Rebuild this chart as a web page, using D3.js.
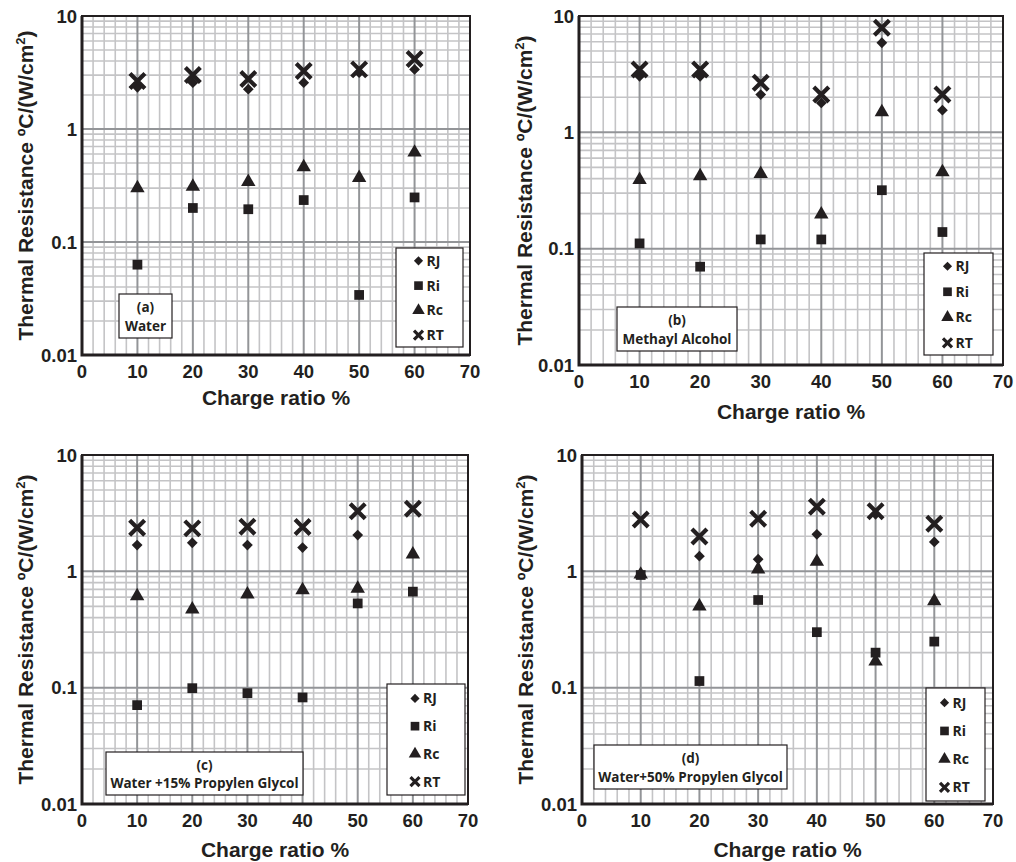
<!DOCTYPE html>
<meta charset="utf-8">
<script src="https://d3js.org/d3.v7.min.js"></script>
<style>
  body { margin: 0; background: #fff; }
  text { font-family: "Liberation Sans", Arial, sans-serif; font-weight: bold; fill: #231f20; }
  .box text { font-family: "Open Sans", sans-serif; font-weight: 700; }
</style>
<div id="my_dataviz"></div>
<script>
// Data
var charge = [10, 20, 30, 40, 50, 60];
var seriesNames = ["RJ", "Ri", "Rc", "RT"];
var yTicks = [0.01, 0.1, 1, 10];
var xTicks = [0, 10, 20, 30, 40, 50, 60, 70];

// (a) Water
var waterRJ = [2.34, 2.57, 2.25, 2.57, 3.15, 3.37];
var waterRi = [0.063, 0.20, 0.195, 0.235, 0.034, 0.248];
var waterRc = [0.30, 0.31, 0.34, 0.46, 0.37, 0.62];
var waterRT = [2.66, 3.0, 2.77, 3.26, 3.37, 4.16];
// (b) Methayl Alcohol
var methRJ = [3.03, 3.03, 2.11, 1.79, 5.89, 1.55];
var methRi = [0.111, 0.070, 0.12, 0.12, 0.318, 0.139];
var methRc = [0.39, 0.42, 0.44, 0.197, 1.49, 0.456];
var methRT = [3.47, 3.47, 2.67, 2.11, 7.92, 2.11];
// (c) Water +15% Propylen Glycol
var pg15RJ = [1.68, 1.76, 1.68, 1.60, 2.05, null];
var pg15Ri = [0.0708, 0.099, 0.0897, 0.0824, 0.53, 0.669];
var pg15Rc = [0.614, 0.472, 0.635, 0.69, 0.71, 1.40];
var pg15RT = [2.37, 2.34, 2.42, 2.40, 3.29, 3.45];
// (d) Water+50% Propylen Glycol
var pg50RJ = [null, 1.35, 1.27, 2.08, 3.09, 1.79];
var pg50Ri = [0.93, 0.114, 0.567, 0.30, 0.20, 0.249];
var pg50Rc = [0.94, 0.50, 1.04, 1.21, 0.168, 0.556];
var pg50RT = [2.79, 1.99, 2.83, 3.59, 3.29, 2.57];

// Panel layout
var panels = [
  {tag: "(a)", name: "Water", series: [waterRJ, waterRi, waterRc, waterRT],
   l: 82, t: 16, r: 470, b: 355, yl: 25, xlab: 398,
   box: [119, 294, 172, 338], leg: [396, 248, 463, 347]},
  {tag: "(b)", name: "Methayl Alcohol", series: [methRJ, methRi, methRc, methRT],
   l: 579, t: 16, r: 1003, b: 365, yl: 524, xlab: 412,
   box: [617, 307, 737, 351], leg: [924, 253, 993, 355]},
  {tag: "(c)", name: "Water +15% Propylen Glycol", series: [pg15RJ, pg15Ri, pg15Rc, pg15RT],
   l: 82, t: 455, r: 468, b: 804, yl: 25, xlab: 850,
   box: [106, 752, 303, 795], leg: [387, 684, 465, 795]},
  {tag: "(d)", name: "Water+50% Propylen Glycol", series: [pg50RJ, pg50Ri, pg50Rc, pg50RT],
   l: 582, t: 455, r: 993, b: 804, yl: 525, xlab: 850,
   box: [594, 745, 787, 789], leg: [926, 688, 985, 801]}
];

var svg = d3.select("#my_dataviz").append("svg")
  .attr("width", 1016).attr("height", 862);

function drawMarker(g, kind, x, y, big) {
  if (kind === 3) {
    var h = big ? 7.5 : 4.5;
    g.append("path")
      .attr("d", "M" + (x - h) + "," + (y - h) + "L" + (x + h) + "," + (y + h) +
                 "M" + (x + h) + "," + (y - h) + "L" + (x - h) + "," + (y + h))
      .attr("stroke", "#231f20").attr("stroke-width", big ? 4.2 : 3.2);
    return;
  }
  var sym = [d3.symbolSquare, d3.symbolSquare, d3.symbolTriangle][kind];
  var size = big ? [58, 95, 90][kind] : [42, 75, 68][kind];
  g.append("path")
    .attr("d", d3.symbol().type(sym).size(size)())
    .attr("transform", "translate(" + x + "," + y + ")" + (kind === 0 ? " rotate(45)" : ""))
    .attr("fill", "#231f20");
}

panels.forEach(function(p) {
  var x = d3.scaleLinear().domain([0, 70]).range([p.l, p.r]);
  var y = d3.scaleLog().domain([0.01, 10]).range([p.b, p.t]);
  var g = svg.append("g");

  // minor grid
  var minorX = d3.range(0, 71, 2).filter(function(v) { return v % 10 !== 0; });
  var minorY = [];
  [0.01, 0.1, 1].forEach(function(d) { for (var k = 2; k <= 9; k++) minorY.push(d * k); });
  g.selectAll(".mx").data(minorX).enter().append("line")
    .attr("x1", d => x(d)).attr("x2", d => x(d)).attr("y1", p.t).attr("y2", p.b)
    .attr("stroke", "#c4c4c6").attr("stroke-width", 1.6);
  g.selectAll(".my").data(minorY).enter().append("line")
    .attr("y1", d => y(d)).attr("y2", d => y(d)).attr("x1", p.l).attr("x2", p.r)
    .attr("stroke", "#c4c4c6").attr("stroke-width", 1.6);
  // major grid
  g.selectAll(".Mx").data(xTicks.slice(1, -1)).enter().append("line")
    .attr("x1", d => x(d)).attr("x2", d => x(d)).attr("y1", p.t).attr("y2", p.b)
    .attr("stroke", "#939598").attr("stroke-width", 2);
  g.selectAll(".My").data(yTicks.slice(1, -1)).enter().append("line")
    .attr("y1", d => y(d)).attr("y2", d => y(d)).attr("x1", p.l).attr("x2", p.r)
    .attr("stroke", "#939598").attr("stroke-width", 2);

  // frame
  g.append("rect").attr("x", p.l).attr("y", p.t)
    .attr("width", p.r - p.l).attr("height", p.b - p.t)
    .attr("fill", "none").attr("stroke", "#231f20").attr("stroke-width", 2);
  g.append("path")
    .attr("d", "M" + p.l + "," + p.t + "V" + p.b + "H" + p.r)
    .attr("fill", "none").attr("stroke", "#231f20").attr("stroke-width", 3);

  // tick labels
  g.selectAll(".yt").data(yTicks).enter().append("text")
    .attr("x", p.l - 5).attr("y", d => y(d) + 6.5)
    .attr("text-anchor", "end").attr("font-size", 18.5)
    .text(d => d3.format("~g")(d));
  g.selectAll(".xt").data(xTicks).enter().append("text")
    .attr("x", d => x(d)).attr("y", p.b + 23)
    .attr("text-anchor", "middle").attr("font-size", 18.5)
    .text(d => d);

  // axis titles
  g.append("text")
    .attr("x", (p.l + p.r) / 2).attr("y", p.xlab + 7)
    .attr("text-anchor", "middle").attr("font-size", 21)
    .text("Charge ratio %");
  var yt = g.append("text")
    .attr("transform", "translate(" + (p.yl + 8) + "," + ((p.t + p.b) / 2) + ") rotate(-90)")
    .attr("text-anchor", "middle").attr("font-size", 21);
  yt.append("tspan").text("Thermal Resistance ºC/(W/cm");
  yt.append("tspan").attr("dy", -8).attr("font-size", 13).text("2");
  yt.append("tspan").attr("dy", 8).text(")");

  // points
  [2, 1, 0, 3].forEach(function(k) {
    p.series[k].forEach(function(v, i) {
      if (v == null) return;
      drawMarker(g, k, x(charge[i]), y(v), true);
    });
  });

  // label box
  var bx = g.append("g").attr("class", "box");
  bx.append("rect").attr("x", p.box[0]).attr("y", p.box[1])
    .attr("width", p.box[2] - p.box[0]).attr("height", p.box[3] - p.box[1])
    .attr("fill", "#fff").attr("stroke", "#231f20").attr("stroke-width", 1.2);
  var cx = (p.box[0] + p.box[2]) / 2, bh = p.box[3] - p.box[1];
  bx.append("text").attr("x", cx).attr("y", p.box[1] + bh * 0.3 + 5)
    .attr("text-anchor", "middle").attr("font-size", 13.5).text(p.tag);
  bx.append("text").attr("x", cx).attr("y", p.box[1] + bh * 0.72 + 5)
    .attr("text-anchor", "middle").attr("font-size", 13.5).text(p.name);

  // legend
  var lg = g.append("g").attr("class", "box");
  lg.append("rect").attr("x", p.leg[0]).attr("y", p.leg[1])
    .attr("width", p.leg[2] - p.leg[0]).attr("height", p.leg[3] - p.leg[1])
    .attr("fill", "#fff").attr("stroke", "#231f20").attr("stroke-width", 1.2);
  var lh = p.leg[3] - p.leg[1];
  var lcx = (p.leg[0] + p.leg[2]) / 2;
  seriesNames.forEach(function(n, k) {
    var ly = p.leg[1] + lh * (0.13 + k * 0.25);
    drawMarker(lg, k, lcx - 11, ly, false);
    lg.append("text").attr("x", lcx - 3).attr("y", ly + 5)
      .attr("font-size", 14).text(n);
  });
});
</script>
